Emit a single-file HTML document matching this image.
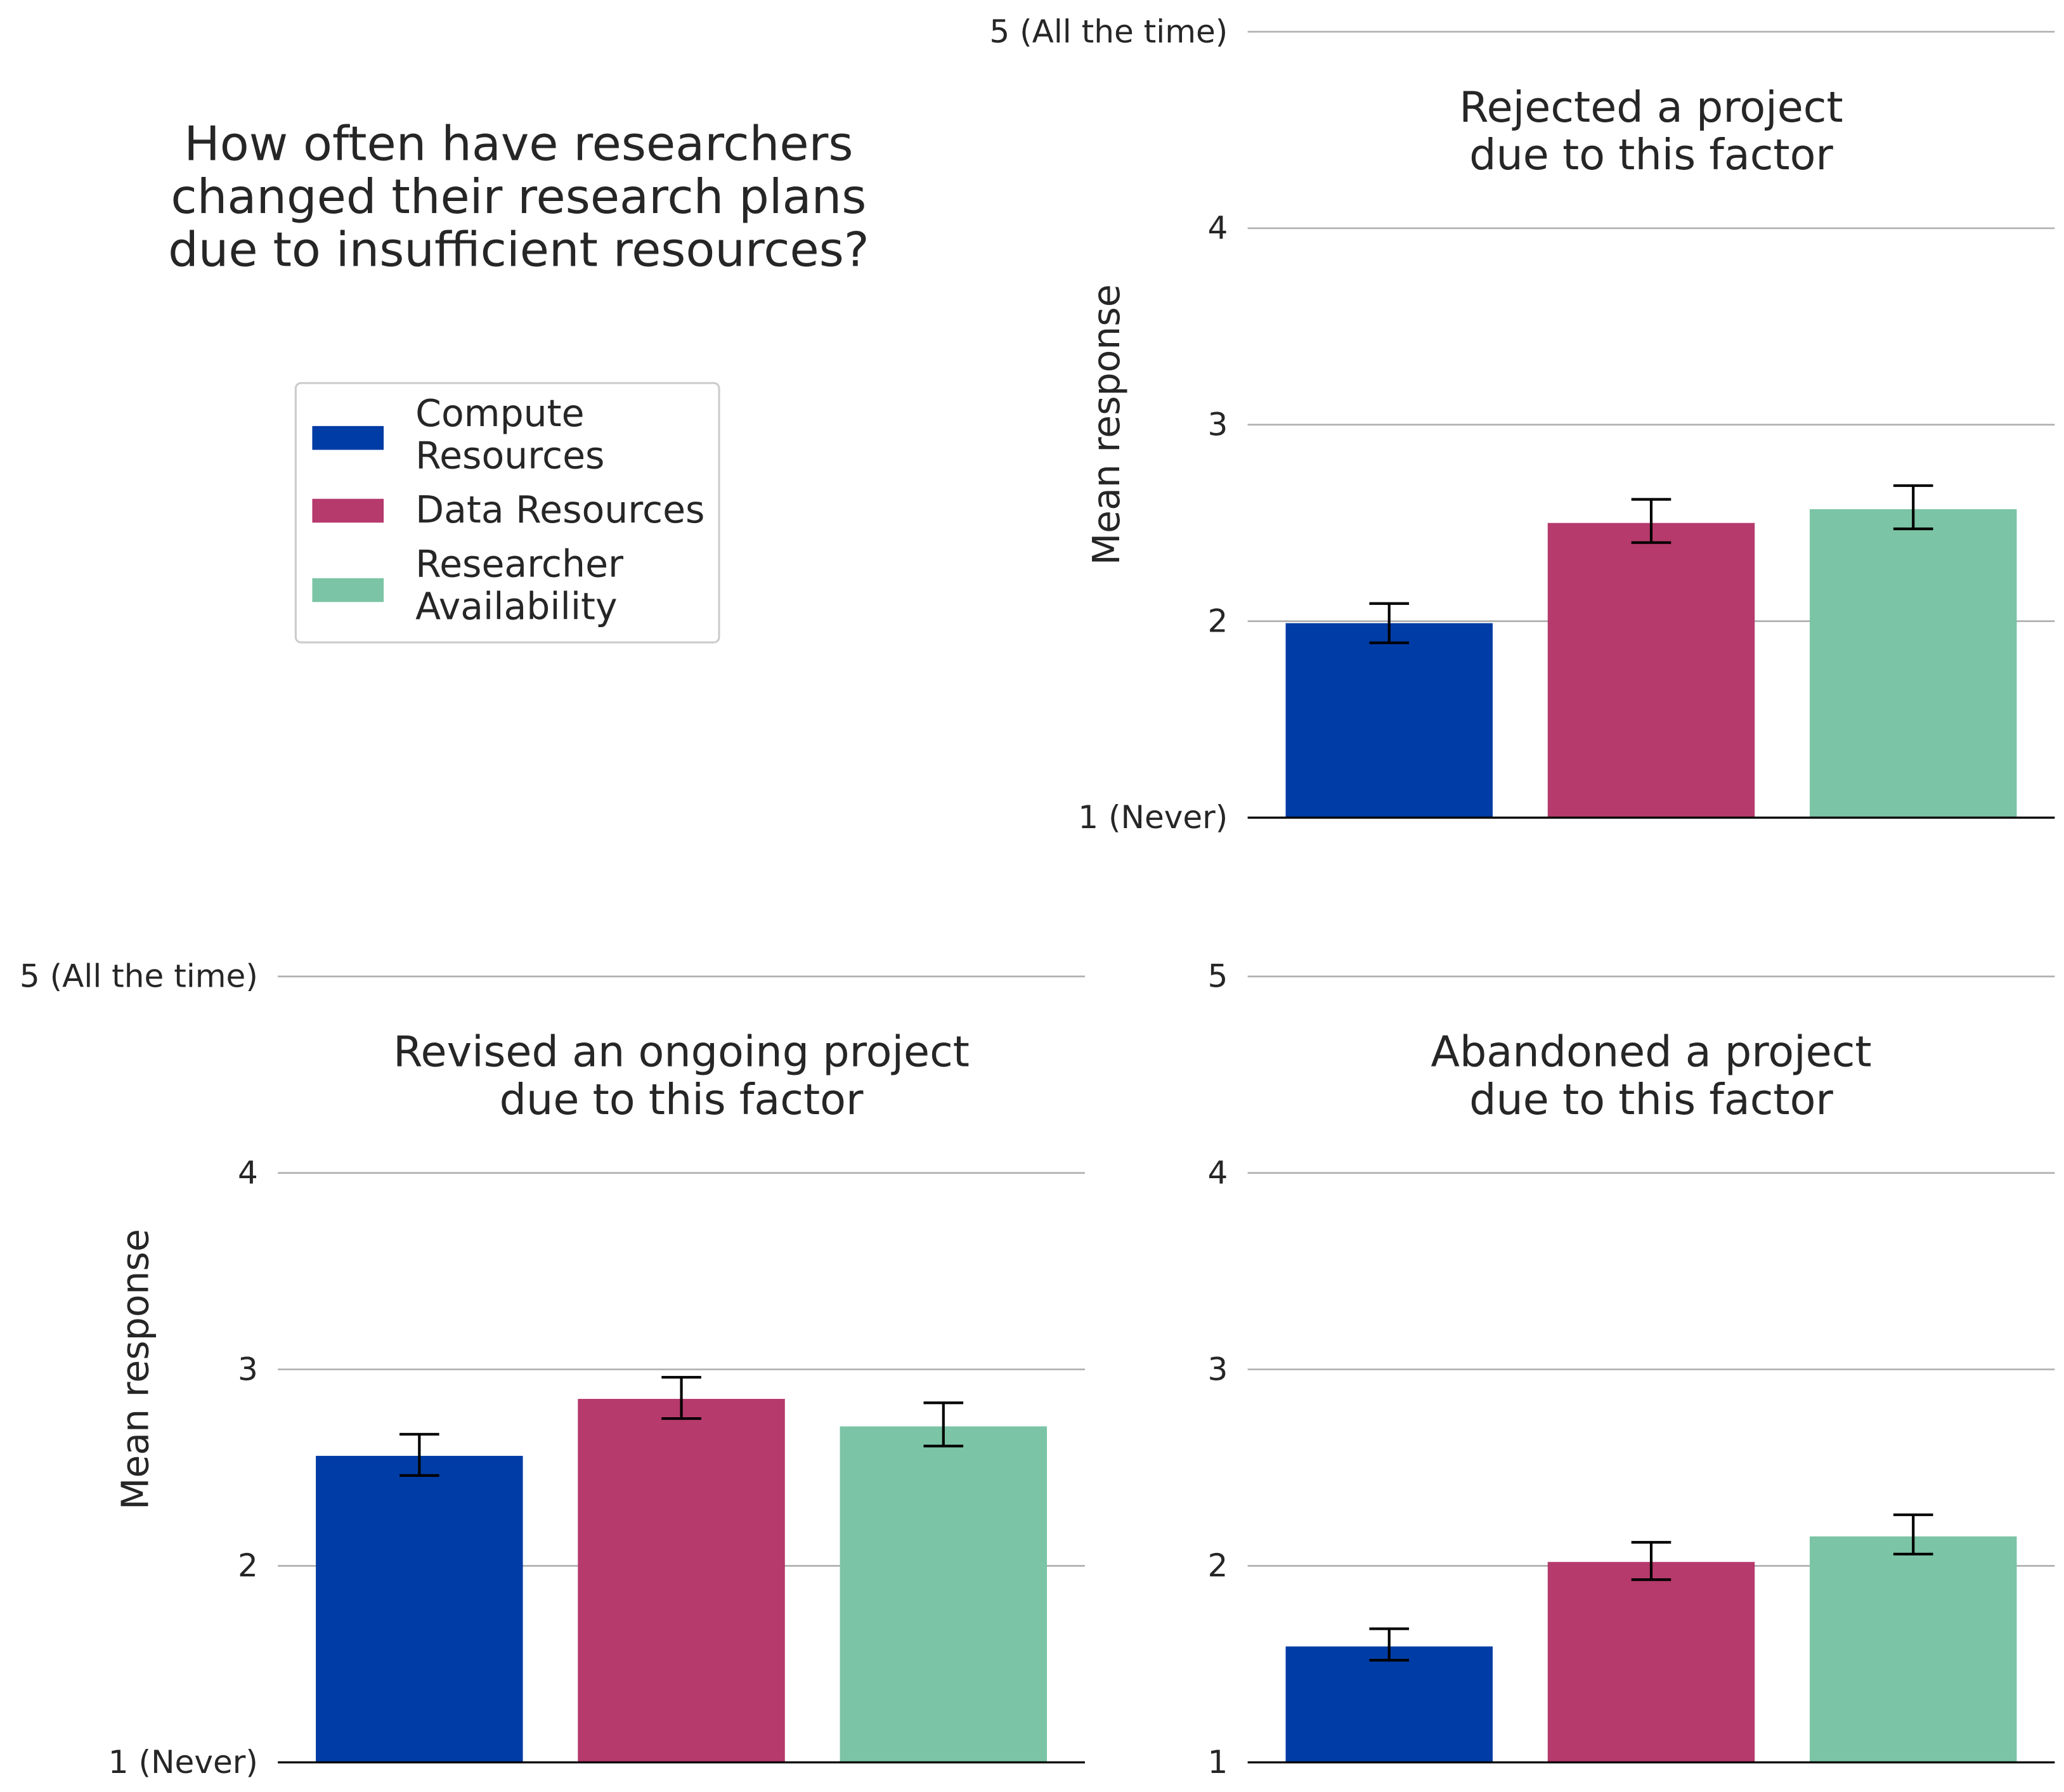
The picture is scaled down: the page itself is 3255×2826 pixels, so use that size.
<!DOCTYPE html>
<html><head><meta charset="utf-8"><style>html,body{margin:0;padding:0;background:#fff}svg{display:block}</style></head>
<body>
<svg id="fig" xmlns="http://www.w3.org/2000/svg" width="3255" height="2826" viewBox="0 0 1560 1354.4" font-family="'DejaVu Sans','Liberation Sans',sans-serif">
<rect width="1560" height="1354.4" fill="#fff"/>
<g fill="#262626" font-size="36" text-anchor="middle">
<text x="392" y="121">How often have researchers</text>
<text x="392" y="161">changed their research plans</text>
<text x="392" y="201">due to insufficient resources?</text>
</g>
<g>
<rect x="223.5" y="289.5" width="320" height="196" rx="4" fill="#fff" stroke="#ccc" stroke-width="1.5"/>
<g><rect x="236" y="322" width="54" height="18" fill="#003ca5"/><text x="314" y="322" font-size="28" fill="#262626">Compute</text><text x="314" y="354" font-size="28" fill="#262626">Resources</text></g>
<g><rect x="236" y="377" width="54" height="18" fill="#b63a6c"/><text x="314" y="395" font-size="28" fill="#262626">Data Resources</text></g>
<g><rect x="236" y="437" width="54" height="18" fill="#7bc4a5"/><text x="314" y="436" font-size="28" fill="#262626">Researcher</text><text x="314" y="468" font-size="28" fill="#262626">Availability</text></g>
</g>
<g id="panels"></g>
</svg>
<script>
const categories = ["Compute Resources", "Data Resources", "Researcher Availability"];
const colors = ["#003ca5", "#b63a6c", "#7bc4a5"];
const rejectedValues = [1.99, 2.50, 2.57];
const rejectedLow = [1.89, 2.40, 2.47];
const rejectedHigh = [2.09, 2.62, 2.69];
const revisedValues = [2.56, 2.85, 2.71];
const revisedLow = [2.46, 2.75, 2.61];
const revisedHigh = [2.67, 2.96, 2.83];
const abandonedValues = [1.59, 2.02, 2.15];
const abandonedLow = [1.52, 1.93, 2.06];
const abandonedHigh = [1.68, 2.12, 2.26];
const yTicks = [1, 2, 3, 4, 5];
const tickLabelsNamed = ["1 (Never)", "2", "3", "4", "5 (All the time)"];
const tickLabelsPlain = ["1", "2", "3", "4", "5"];

const NS = "http://www.w3.org/2000/svg";
const root = document.getElementById('panels');
function mk(tag, attrs, parent, text){
  const e = document.createElementNS(NS, tag);
  for (const k in attrs) e.setAttribute(k, attrs[k]);
  if (text !== undefined) e.textContent = text;
  parent.appendChild(e);
  return e;
}
function panel(name, x0, x1, yTop, yBot, title, vals, lo, hi, labels, ylabel){
  const g = mk('g', {}, root);
  
  
  const y = v => yBot - (v - 1) / 4 * (yBot - yTop);
  const xmin = -0.54, xmax = 2.54;
  const unit = (x1 - x0) / (xmax - xmin);
  const xc = i => x0 + (i - xmin) * unit;
  const bw = 0.79 * unit;
  yTicks.forEach((t, i) => {
    if (t > 1) {
      const l = mk('line', {x1: x0, x2: x1, y1: y(t), y2: y(t), stroke: '#b0b0b0', 'stroke-width': 1.3}, g);
      
      
    }
    const tl = mk('text', {x: x0 - 15, y: y(t) + 8, 'font-size': 24, 'text-anchor': 'end', fill: '#262626'}, g, labels[i]);
    
    
  });
  vals.forEach((v, i) => {
    const r = mk('rect', {x: xc(i) - bw / 2, y: y(v), width: bw, height: y(1) - y(v), fill: colors[i]}, g);
    
    
    const eb = mk('g', {stroke: '#000', 'stroke-width': 2}, g);
    
    
    mk('line', {x1: xc(i), x2: xc(i), y1: y(lo[i]), y2: y(hi[i])}, eb);
    mk('line', {x1: xc(i) - 15, x2: xc(i) + 15, y1: y(lo[i]), y2: y(lo[i])}, eb);
    mk('line', {x1: xc(i) - 15, x2: xc(i) + 15, y1: y(hi[i]), y2: y(hi[i])}, eb);
  });
  const base = mk('line', {x1: x0, x2: x1, y1: yBot, y2: yBot, stroke: '#000', 'stroke-width': 1.6}, g);
  
  
  const cx = (x0 + x1) / 2;
  const tt = mk('g', {'font-size': 32, 'text-anchor': 'middle', fill: '#262626'}, g);
  
  
  mk('text', {x: cx, y: yTop + 68}, tt, title[0]);
  mk('text', {x: cx, y: yTop + 104}, tt, title[1]);
  if (ylabel) {
    const yl = mk('text', {x: 0, y: 0, 'font-size': 28, 'text-anchor': 'middle', fill: '#262626', transform: 'translate(' + ylabel + ',' + ((yTop + yBot) / 2) + ') rotate(-90)'}, g, 'Mean response');
    
    
  }
}
panel('panel-rejected', 943, 1553, 24, 618, ["Rejected a project", "due to this factor"], rejectedValues, rejectedLow, rejectedHigh, tickLabelsNamed, 846);
panel('panel-revised', 210, 820, 738, 1332, ["Revised an ongoing project", "due to this factor"], revisedValues, revisedLow, revisedHigh, tickLabelsNamed, 112);
panel('panel-abandoned', 943, 1553, 738, 1332, ["Abandoned a project", "due to this factor"], abandonedValues, abandonedLow, abandonedHigh, tickLabelsPlain, null);
</script>
</body></html>
